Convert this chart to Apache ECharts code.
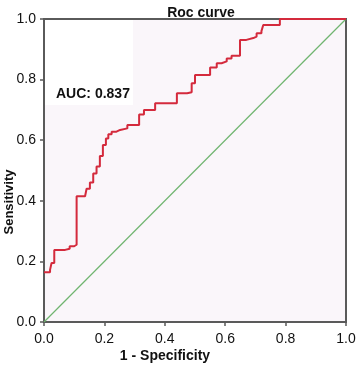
<!DOCTYPE html>
<html><head><meta charset="utf-8">
<script src="https://cdn.jsdelivr.net/npm/echarts@6/dist/echarts.min.js"></script>
<style>html,body{margin:0;padding:0;background:#fff}#c{width:358px;height:367px}</style>
</head><body><div id="c"></div>
<script>
const rocX = [0, 0.02, 0.025, 0.034, 0.07, 0.085, 0.10, 0.108, 0.136, 0.141, 0.152, 0.163, 0.174, 0.185, 0.195, 0.205, 0.213, 0.224, 0.24, 0.252, 0.276, 0.315, 0.331, 0.368, 0.44, 0.474, 0.489, 0.50, 0.55, 0.572, 0.588, 0.605, 0.621, 0.649, 0.67, 0.693, 0.704, 0.72, 0.726, 0.781, 1.0];
const rocY = [0.164, 0.172, 0.195, 0.238, 0.242, 0.25, 0.255, 0.415, 0.42, 0.44, 0.46, 0.49, 0.513, 0.548, 0.584, 0.606, 0.62, 0.628, 0.634, 0.639, 0.65, 0.685, 0.70, 0.722, 0.755, 0.758, 0.788, 0.815, 0.84, 0.854, 0.86, 0.87, 0.879, 0.931, 0.937, 0.942, 0.953, 0.96, 0.98, 1.0, 1.0];
const refX = [0, 1];
const refY = [0, 1];
const ticks = [0, 0.2, 0.4, 0.6, 0.8, 1.0];
const title = 'Roc curve';
const aucText = 'AUC: 0.837';
const xName = '1 - Specificity';
const yName = 'Sensitivity';

const font = '"Liberation Sans", Arial, sans-serif';
const chart = echarts.init(document.getElementById('c'), null, {renderer: 'canvas'});
const axisCommon = {
  type: 'value', min: 0, max: 1, interval: 0.2,
  axisLine: {show: true, lineStyle: {color: '#5a5a5a', width: 2}},
  axisTick: {show: true, inside: false, length: 4, lineStyle: {color: '#5a5a5a', width: 1.5}},
  splitLine: {show: false},
  axisLabel: {color: '#111', fontSize: 14, fontFamily: font, formatter: v => v.toFixed(1)}
};
chart.setOption({
  animation: false,
  backgroundColor: '#fff',
  title: {text: title, left: 196, textAlign: 'center', top: 1,
    textStyle: {fontSize: 14, fontWeight: 'bold', color: '#111', fontFamily: font}},
  grid: {left: 44, right: 12, top: 19, bottom: 45, show: true, containLabel: false,
    outerBoundsMode: 'none',
    backgroundColor: '#faf6fa', borderColor: '#5a5a5a', borderWidth: 2},
  graphic: [
    {type: 'rect', shape: {x: 45, y: 20, width: 88, height: 85}, style: {fill: '#fff'}, z: 1, silent: true},
    {type: 'text', left: 56, top: 87, z: 10,
      style: {text: aucText, fontSize: 14, fontWeight: 'bold', fill: '#111', fontFamily: font}},
    {type: 'text', x: 165, y: 356, z: 10,
      style: {text: xName, fontSize: 14, fontWeight: 'bold', fill: '#111', fontFamily: font,
        align: 'center', verticalAlign: 'middle'}},
    {type: 'text', x: 9, y: 202, rotation: Math.PI / 2, z: 10,
      style: {text: yName, fontSize: 13, fontWeight: 'bold', fill: '#111', fontFamily: font,
        align: 'center', verticalAlign: 'middle'}}
  ],
  xAxis: Object.assign({}, axisCommon, {axisLabel: Object.assign({}, axisCommon.axisLabel, {margin: 10})}),
  yAxis: Object.assign({}, axisCommon),
  series: [
    {type: 'line', data: refX.map((x, i) => [x, refY[i]]), symbol: 'none', z: 3,
      lineStyle: {color: '#6fb46f', width: 1.2}},
    {type: 'line', data: rocX.map((x, i) => [x, rocY[i]]), step: 'end', symbol: 'none', z: 4,
      lineStyle: {color: '#d42a3c', width: 2}}
  ]
});
</script></body></html>
